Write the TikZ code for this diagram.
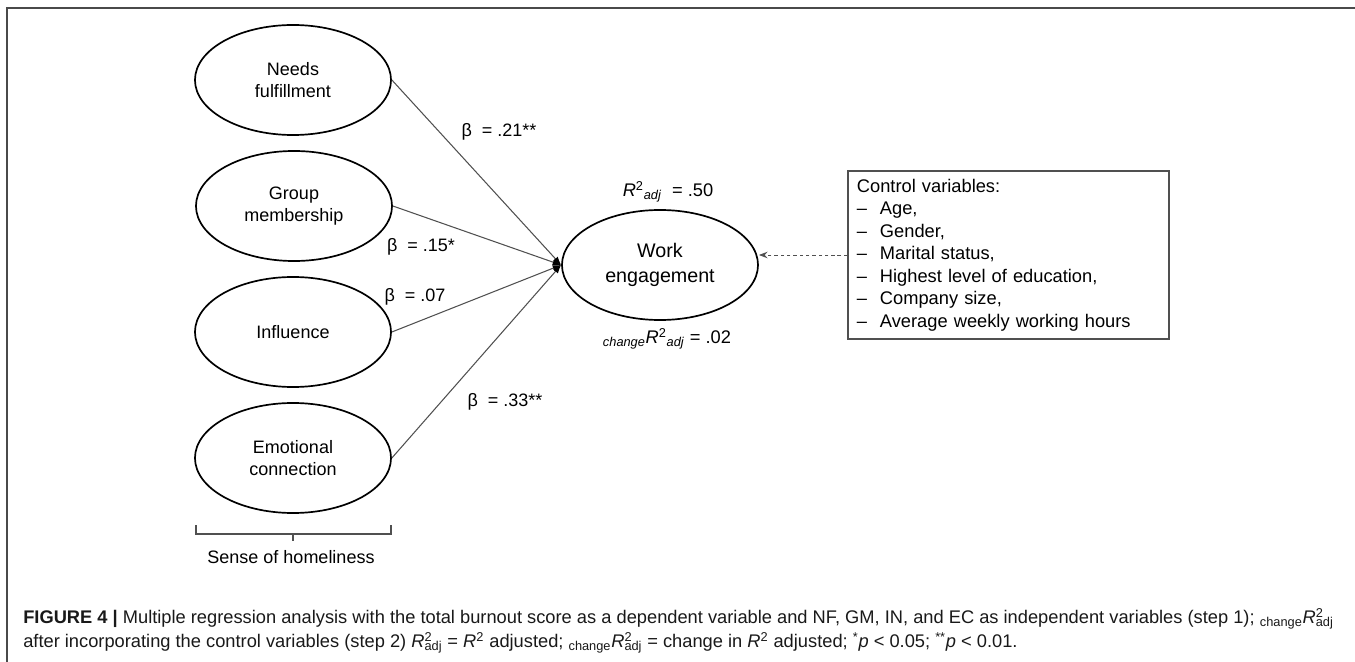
\documentclass[tikz,border=0pt]{standalone}
\usepackage{fontspec}
\setmainfont{Liberation Sans}
\newfontfamily\capfont{Liberation Sans}
\usepackage{xcolor}
\usetikzlibrary{shapes.geometric, arrows.meta, positioning}

\definecolor{framegray}{HTML}{4A4A4A}
\definecolor{pathgray}{HTML}{505050}

\newcommand{\Radj}{\textit{R}\textsuperscript{2}\textsubscript{\textit{adj}}}
\newcommand{\capR}{\textit{R}\rlap{\textsuperscript{2}}\textsubscript{adj}}

\begin{document}
\begin{tikzpicture}[
    x=0.025cm, y=-0.025cm,
    >=Stealth,
    % Styles
    factor/.style={ellipse, draw=black, line width=1.2pt, minimum width=4.9cm, minimum height=2.75cm, inner sep=0pt, align=center, font=\fontsize{12.8}{15.6}\selectfont},
    pathline/.style={draw=pathgray, line width=0.75pt, -{Latex[length=6pt,width=4.5pt,color=black]}},
    coef/.style={font=\fontsize{12.8}{15}\selectfont, inner sep=0pt},
    rlabel/.style={font=\fontsize{13}{15}\selectfont, inner sep=0pt},
    ctrlbox/.style={rectangle, draw=pathgray, line width=0.9pt, minimum width=8.025cm, minimum height=4.2cm, text width=7.575cm, inner xsep=0.225cm, align=left, font=\fontsize{13}{16}\selectfont},
    ctrlarrow/.style={->, draw=pathgray, line width=0.7pt, dash pattern=on 2.5pt off 2pt},
    bracket/.style={draw=pathgray, line width=0.8pt},
    caption/.style={anchor=west, inner sep=0pt, font=\capfont\fontsize{13}{14}\selectfont, text=black!90},
]
\useasboundingbox (0,0) rectangle (1355,662);

% === FRAME ===
\draw[framegray, line width=1.1pt] (1355,8) -- (7,8) -- (7,662);

% === SENSE OF HOMELINESS ===
\node[factor] (nf) at (293,80) {Needs\\fulfillment};
\node[factor] (gm) at (294,206) {Group\\membership};
\node[factor] (in) at (293,332) {Influence};
\node[factor] (ec) at (293,458) {Emotional\\connection};

% === OUTCOME ===
\node[factor, font=\fontsize{14}{17.8}\selectfont] (we) at (660,265) {Work\\engagement};
\node[rlabel] (r2) at (668,192) {\Radj~ = .50};
\node[rlabel] (dr2) at (667,339) {\textsubscript{\textit{change}}\Radj{} = .02};

% === PATHS ===
\draw[pathline] (nf.east) -- (we.west);
\draw[pathline] (gm.east) -- (we.west);
\draw[pathline] (in.east) -- (we.west);
\draw[pathline] (ec.east) -- (we.west);
\node[coef] (b1) at (499,132) {β~ = .21**};
\node[coef] (b2) at (421,247) {β~ = .15*};
\node[coef] (b3) at (415,297) {β~ = .07};
\node[coef] (b4) at (505,402) {β~ = .33**};

% === CONTROL VARIABLES ===
\node[ctrlbox] (ctrl) at (1008.5,255) {Control variables:\\
\makebox[0.575cm][l]{--}Age,\\
\makebox[0.575cm][l]{--}Gender,\\
\makebox[0.575cm][l]{--}Marital status,\\
\makebox[0.575cm][l]{--}Highest level of education,\\
\makebox[0.575cm][l]{--}Company size,\\
\makebox[0.575cm][l]{--}Average weekly working hours};
\draw[ctrlarrow] (ctrl.west) -- (ctrl.west -| we.east);

% === BRACKET ===
\coordinate (bl) at (196,525);
\coordinate (br) at (391,525);
\coordinate (bm) at (293,534);
\draw[bracket] (bl) -- ++(0,9) -| (br);
\draw[bracket] (bm) -- ++(0,7);
\node[coef] (soh) at (291,557) {Sense of homeliness};

% === CAPTION ===
\node[caption] (cap1) at (23,619) {\textbf{FIGURE 4 |} Multiple regression analysis with the total burnout score as a dependent variable and NF, GM, IN, and EC as independent variables (step 1); \textsubscript{change}\capR};
\node[caption] (cap2) at (23,643) {after incorporating the control variables (step 2) \capR{} = \textit{R}\textsuperscript{2} adjusted; \textsubscript{change}\capR{} = change in \textit{R}\textsuperscript{2} adjusted; \textsuperscript{*}\textit{p} < 0.05; \textsuperscript{**}\textit{p} < 0.01.};

\end{tikzpicture}
\end{document}
